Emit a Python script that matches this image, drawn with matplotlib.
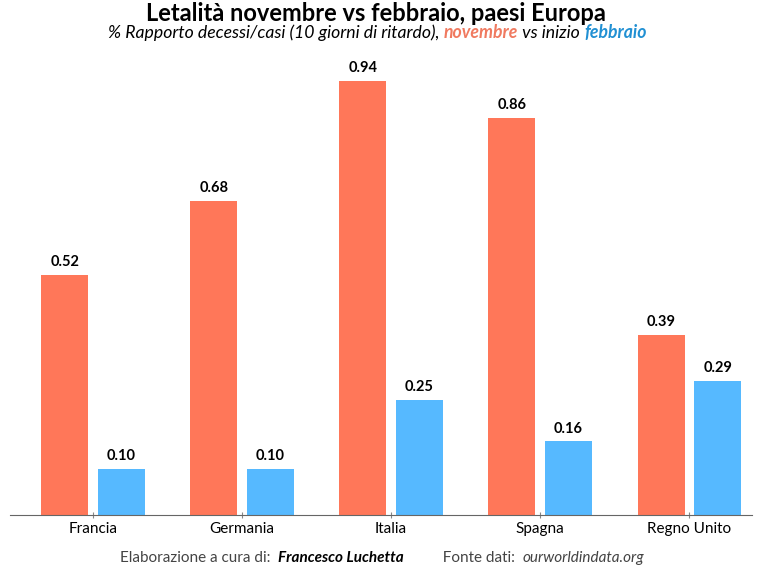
import numpy as np
import matplotlib.pyplot as plt

plt.rcParams['font.family'] = ['Lato', 'DejaVu Sans']

# Dati: letalità (%) novembre vs inizio febbraio
paesi = ['Francia', 'Germania', 'Italia', 'Spagna', 'Regno Unito']
novembre = [0.52, 0.68, 0.94, 0.86, 0.39]
febbraio = [0.10, 0.10, 0.25, 0.16, 0.29]

col_nov = '#FF7759'
col_feb = '#56B9FF'

fig = plt.figure(figsize=(7.67, 5.68), dpi=100)
ax = fig.add_axes([0.013, 0.0933, 0.9674, 0.8134])

x = np.arange(len(paesi))
w = 0.315
off = 0.19
b1 = ax.bar(x - off, novembre, w, color=col_nov)
b2 = ax.bar(x + off, febbraio, w, color=col_feb)

for bars, vals in [(b1, novembre), (b2, febbraio)]:
    for b, v in zip(bars, vals):
        ax.annotate(f'{v:.2f}', (b.get_x() + b.get_width() / 2, v),
                    xytext=(0, 4), textcoords='offset points',
                    ha='center', va='bottom', fontsize=10.5, fontweight='bold')

ax.set_xlim(-0.557, 4.42)
ax.set_ylim(0, 1.0)
ax.set_yticks([])
ax.set_xticks(x)
ax.set_xticklabels(paesi, fontsize=11)
ax.tick_params(axis='x', direction='inout', length=4, color='#888888', pad=3)
for s in ['top', 'right', 'left']:
    ax.spines[s].set_visible(False)
ax.spines['bottom'].set_color('#666666')

# Titolo
fig.text(0.49, 0.977, 'Letalità novembre vs febbraio, paesi Europa',
         ha='center', va='center', fontsize=17, fontweight='bold')

# Sottotitolo a più colori
fs = 12.7
t = fig.text(108 / 767, 1 - 33 / 568, '% Rapporto decessi/casi (10 giorni di ritardo), ',
             ha='left', va='center', fontsize=fs, style='italic')
t = ax.annotate('novembre', xycoords=t, xy=(1, 0), va='bottom', fontsize=fs,
                style='italic', fontweight='bold', color='#F07A60')
t = ax.annotate(' vs inizio ', xycoords=t, xy=(1, 0), va='bottom', fontsize=fs,
                style='italic')
t = ax.annotate('febbraio', xycoords=t, xy=(1, 0), va='bottom', fontsize=fs,
                style='italic', fontweight='bold', color='#2190D3')

# Piè di pagina
t = fig.text(120 / 767, 1 - 558 / 568, 'Elaborazione a cura di:  ',
             ha='left', va='center', fontsize=11, color='#444444')
t = ax.annotate('Francesco Luchetta', xycoords=t, xy=(1, 0), va='bottom',
                fontsize=11, style='italic', fontweight='bold')
t = ax.annotate('          Fonte dati:  ', xycoords=t, xy=(1, 0), va='bottom',
                fontsize=11, color='#444444')
t = ax.annotate('ourworldindata.org', xycoords=t, xy=(1, 0), va='bottom',
                fontsize=11, style='italic', color='#444444')

fig.savefig('out.png', dpi=100)
